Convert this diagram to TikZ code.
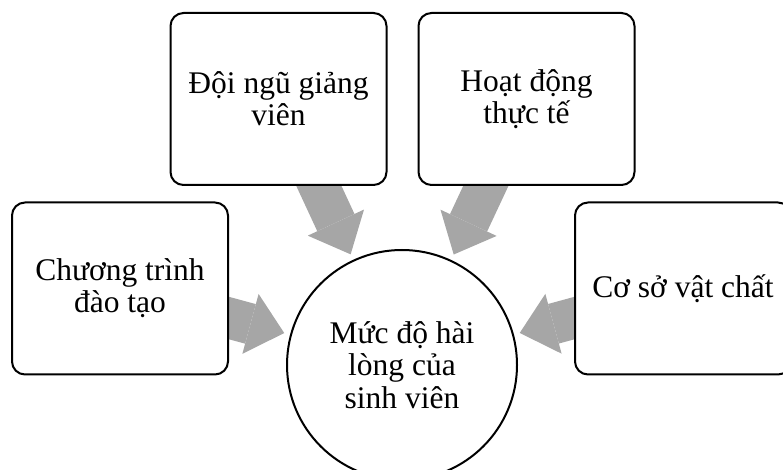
\documentclass[tikz,border=0pt]{standalone}
\usepackage{fontspec}
\setmainfont{Liberation Serif}
\usetikzlibrary{arrows.meta,positioning,backgrounds}

\begin{document}
\begin{tikzpicture}[
  x=1pt, y=1pt,
  factor/.style={draw, line width=2pt, rounded corners=13pt, fill=white, minimum width=216pt, minimum height=172pt, align=center, font=\fontsize{31.5}{32}\selectfont},
  hub/.style={draw, circle, line width=2pt, fill=white, minimum size=230pt, align=center, font=\fontsize{31.5}{32.5}\selectfont},
  push/.style={draw=gray!70, line width=41pt, -{Triangle[width=62pt,length=35pt,line width=0pt]}, shorten >=6pt},
]
\useasboundingbox (0,0) rectangle (783,470);
\node[hub] (hub) at (402,105) {Mức độ hài\\lòng của\\sinh viên};
\node[factor] (prog) at (120,181.5) {Chương trình\\đào tạo};
\node[factor] (staff) at (278.5,371) {Đội ngũ giảng\\viên};
\node[factor, right=30pt of staff] (prac) {Hoạt động\\thực tế};
\node[factor] (fac) at (683,181.5) {Cơ sở vật chất};

% arrows go under the boxes
\begin{scope}[on background layer]
\draw[push] (prog.center) -- (hub);
\draw[push] (staff.center) -- (hub);
\draw[push] (prac.center) -- (hub);
\draw[push] (fac.center) -- (hub);
\end{scope}
\end{tikzpicture}
\end{document}
